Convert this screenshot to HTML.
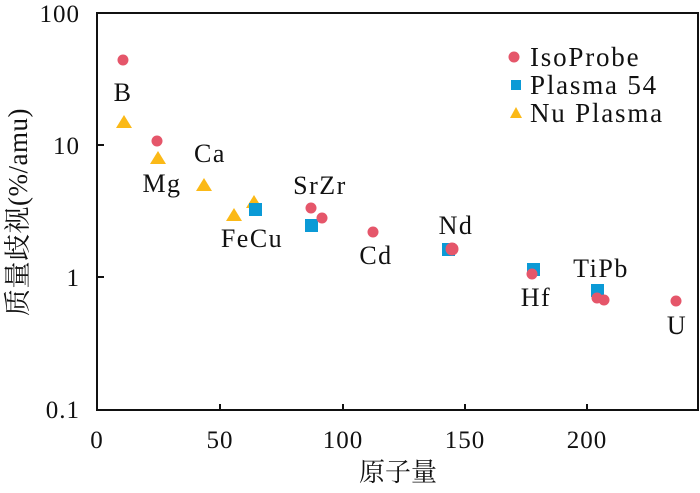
<!DOCTYPE html>
<html><head><meta charset="utf-8"><style>body{margin:0;background:#fff}
svg text{font-family:"Liberation Serif","Times New Roman",Times,"DejaVu Serif","Noto Serif CJK SC",serif;}
.cn{font-family:"Noto Serif CJK SC","Liberation Serif",serif !important;}
</style></head><body>
<svg width="700" height="488" xmlns="http://www.w3.org/2000/svg" fill="#111">
<rect x="97" y="13" width="601" height="397" fill="none" stroke="#111" stroke-width="2"/>
<g stroke="#111" stroke-width="2">
<line x1="220" y1="410" x2="220" y2="404"/><line x1="343" y1="410" x2="343" y2="404"/><line x1="465" y1="410" x2="465" y2="404"/><line x1="587" y1="410" x2="587" y2="404"/>
<line x1="97" y1="145" x2="104" y2="145"/><line x1="97" y1="277" x2="104" y2="277"/>
</g>
<g font-size="25" text-anchor="middle" letter-spacing="1">
<text x="97" y="448">0</text><text x="220" y="448">50</text><text x="343" y="448">100</text><text x="465" y="448">150</text><text x="587" y="448">200</text>
</g>
<g font-size="25" text-anchor="end" letter-spacing="1">
<text x="80" y="22">100</text><text x="80" y="154">10</text><text x="80" y="286">1</text><text x="80" y="418">0.1</text>
</g>
<text class="cn" x="398" y="481" font-size="26" text-anchor="middle">原子量</text>
<text transform="translate(27,212) rotate(-90)" font-size="27" text-anchor="middle" letter-spacing="0.5"><tspan class="cn">质量歧视</tspan>(%/amu)</text>
<g fill="#fbb917">
<polygon points="124,115 116,128 132,128"/><polygon points="158,151 150,164 166,164"/><polygon points="204,178 196,191 212,191"/><polygon points="234,208 226,221 242,221"/><polygon points="254,195 246,208 262,208"/>
</g>
<g fill="#0b9ad6">
<rect x="249" y="203" width="13" height="13"/><rect x="305" y="219" width="13" height="13"/><rect x="442" y="243" width="13" height="13"/><rect x="527" y="263" width="13" height="13"/><rect x="591" y="284" width="13" height="13"/>
</g>
<g fill="#e5566a">
<circle cx="123" cy="60" r="5.5"/><circle cx="157" cy="141" r="5.5"/><circle cx="311" cy="208" r="5.5"/><circle cx="322" cy="218" r="5.5"/><circle cx="373" cy="232" r="5.5"/><circle cx="452" cy="249" r="6.5"/><circle cx="532" cy="274" r="5.5"/><circle cx="597" cy="298" r="5.5"/><circle cx="604" cy="300" r="5.5"/><circle cx="676" cy="301" r="5.5"/>
</g>
<g font-size="26" text-anchor="middle" letter-spacing="1.5">
<text x="123" y="101">B</text><text x="162" y="192">Mg</text><text x="210" y="162">Ca</text><text x="252" y="247">FeCu</text><text x="320" y="194">SrZr</text><text x="376" y="264">Cd</text><text x="456" y="234">Nd</text><text x="536" y="306">Hf</text><text x="601" y="277">TiPb</text><text x="677" y="334">U</text>
</g>
<circle cx="514" cy="57" r="5.5" fill="#e5566a"/>
<rect x="511" y="80" width="10" height="10" fill="#0b9ad6"/>
<polygon points="516,107 510,118 522,118" fill="#fbb917"/>
<g font-size="27" letter-spacing="1.8">
<text x="530" y="66">IsoProbe</text><text x="530" y="94">Plasma 54</text><text x="530" y="122">Nu Plasma</text>
</g>
</svg>
</body></html>
